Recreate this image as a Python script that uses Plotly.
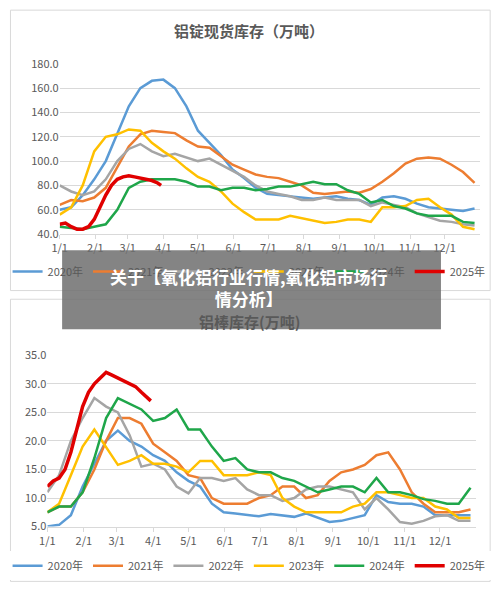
import plotly.graph_objects as go

days = list(range(0, 361, 10))
red_days = [0, 5, 10, 15, 20, 25, 30, 35, 40, 45, 50, 55, 60, 65, 70, 75, 80, 85, 88]
month_days = [0, 31, 59, 90, 120, 151, 181, 212, 243, 273, 304, 334]
month_labels = ['1/1', '2/1', '3/1', '4/1', '5/1', '6/1', '7/1', '8/1', '9/1', '10/1', '11/1', '12/1']
years = ['2020年', '2021年', '2022年', '2023年', '2024年', '2025年']

# 铝锭现货库存
ingot_2020 = [60, 62, 72, 85, 100, 122, 145, 160, 166, 167, 160, 145, 125, 115, 105, 93, 86, 78, 73,
              72, 71, 70, 69, 70, 71, 69, 68, 64, 70, 71, 69, 65, 62, 61, 60, 59, 61]
ingot_2021 = [64, 68, 67, 70, 78, 95, 112, 122, 125, 124, 123, 117, 112, 111, 104, 97, 93, 89, 87,
              86, 83, 80, 74, 73, 74, 75, 74, 77, 83, 90, 98, 102, 103, 102, 97, 91, 82]
ingot_2022 = [80, 75, 72, 75, 85, 100, 110, 114, 108, 104, 106, 103, 100, 102, 97, 92, 87, 80, 75,
              73, 71, 68, 68, 70, 68, 68, 68, 63, 66, 64, 62, 57, 54, 51, 50, 48, 47]
ingot_2023 = [56, 62, 80, 108, 120, 122, 126, 125, 115, 108, 102, 94, 87, 83, 75, 65, 58, 52, 52,
              52, 55, 53, 51, 49, 50, 52, 52, 50, 62, 62, 63, 68, 69, 62, 56, 46, 44]
ingot_2024 = [46, 45, 44, 46, 48, 60, 78, 83, 85, 85, 85, 83, 79, 79, 76, 78, 78, 76, 77,
              79, 79, 81, 83, 81, 81, 76, 73, 66, 68, 63, 61, 57, 55, 55, 55, 50, 49]
ingot_2025 = [48, 49, 46, 44, 44, 46, 52, 62, 72, 80, 85, 87, 88, 87, 86, 85, 84, 82, 80]

# 铝棒库存
bar_2020 = [5, 5.3, 7, 12, 16, 20, 21.8, 20, 19, 17.5, 16.5, 14.5, 13, 12, 9, 7.5, 7.3, 7, 6.8,
            7.2, 7, 6.7, 7.3, 6.5, 5.8, 6, 6.5, 7, 10.5, 9.3, 9, 9, 8.5, 7, 7, 7, 7]
bar_2021 = [7.5, 8.5, 8.5, 11, 15, 20, 24, 24, 23, 19.5, 18, 16.5, 14, 13.5, 10, 9, 9, 9, 10,
            10.5, 12, 12, 10, 10.5, 13, 14.5, 15, 15.8, 17.5, 18, 15, 11, 9, 7.5, 7.5, 7.5, 8]
bar_2022 = [11, 14, 20, 24, 27.5, 26, 25, 21, 15.5, 16, 15, 12, 10.8, 13.5, 13.5, 13, 13.5, 11.5, 10.5,
            10.5, 9.5, 10, 11.5, 12, 12, 11.5, 11, 8, 10, 8, 5.8, 5.5, 6, 6.8, 7, 6, 6]
bar_2023 = [7.5, 9, 14, 19, 22, 19, 15.8, 16.5, 17.5, 16, 16, 15.5, 14.5, 16.5, 16.5, 14, 14, 14, 14.5,
            14, 10, 8.5, 7.5, 7.5, 7.5, 7.5, 8.5, 9, 11, 11, 10.5, 10, 10, 8.5, 8, 6.5, 6.5]
bar_2024 = [7.5, 8.5, 8.5, 11, 17, 24, 27.5, 26.5, 25.5, 23.5, 24, 25.5, 22, 22, 19, 16.5, 17, 15, 14.5,
            14.5, 13.5, 13, 12, 11, 11.5, 12, 12, 11, 13.5, 11, 11, 10.5, 9.8, 9.5, 9, 9, 11.8]
bar_2025 = [12, 13, 13.5, 15, 18, 22, 26, 28.5, 30, 31, 32, 31.5, 31, 30.5, 30, 29.5, 28.5, 27.5, 27]

colors = ['#5B9BD5', '#ED7D31', '#A5A5A5', '#FFC000', '#1FA64A', '#E00000']
ingot = [ingot_2020, ingot_2021, ingot_2022, ingot_2023, ingot_2024, ingot_2025]
bars = [bar_2020, bar_2021, bar_2022, bar_2023, bar_2024, bar_2025]

fig = go.Figure()
for i, name in enumerate(years):
    xs = red_days if i == 5 else days
    w = 3.5 if i == 5 else 2.5
    fig.add_trace(go.Scatter(x=xs, y=ingot[i], name=name, mode='lines',
                             line=dict(color=colors[i], width=w),
                             xaxis='x', yaxis='y', legend='legend2'))
for i, name in enumerate(years):
    xs = red_days if i == 5 else days
    w = 3.5 if i == 5 else 2.5
    fig.add_trace(go.Scatter(x=xs, y=bars[i], name=name, mode='lines',
                             line=dict(color=colors[i], width=w),
                             xaxis='x2', yaxis='y2', legend='legend'))

tickfont = dict(family='Noto Sans CJK SC', size=11, color='#595959')
xcommon = dict(range=[0, 365], tickvals=month_days, ticktext=month_labels, showgrid=False,
               showline=True, linecolor='#D9D9D9', ticks='outside', ticklen=4,
               tickcolor='#D9D9D9', tickfont=tickfont, zeroline=False)
ycommon = dict(showgrid=True, gridcolor='#D9D9D9', tickfont=tickfont, zeroline=False,
               tickformat='.1f', showline=False)
legfont = dict(family='Noto Sans CJK SC', size=11, color='#595959')

fig.update_layout(
    width=500, height=593, margin=dict(l=0, r=0, t=0, b=0),
    paper_bgcolor='white', plot_bgcolor='white',
    font=dict(family='Noto Sans CJK SC'),
    xaxis=dict(domain=[0.105, 0.96], anchor='y', **xcommon),
    yaxis=dict(domain=[0.61, 0.905], anchor='x', range=[40, 180], dtick=20, **ycommon),
    xaxis2=dict(domain=[0.08, 0.952], anchor='y2', **xcommon),
    yaxis2=dict(domain=[0.103, 0.40], anchor='x2', range=[5, 35], dtick=5, **ycommon),
    legend=dict(orientation='h', x=0.49, xanchor='center', y=0.035, yanchor='middle',
                font=legfont, itemwidth=30, tracegroupgap=0),
    legend2=dict(orientation='h', x=0.49, xanchor='center', y=0.545, yanchor='middle',
                 font=legfont, itemwidth=30, bgcolor='rgba(0,0,0,0)'),
    shapes=[
        dict(type='rect', xref='paper', yref='paper', x0=0.005, x1=0.98, y0=0.512, y1=0.998,
             line=dict(color='#D9D9D9', width=1)),
        dict(type='rect', xref='paper', yref='paper', x0=0.005, x1=0.98, y0=0.008, y1=0.497,
             line=dict(color='#D9D9D9', width=1)),
        dict(type='rect', xref='paper', yref='paper', x0=0.11, x1=0.88, y0=0.445, y1=0.582,
             fillcolor='rgba(110,110,110,0.85)', line=dict(width=0), layer='above'),
    ],
    annotations=[
        dict(text='<b>铝锭现货库存（万吨）</b>', x=0.49, y=0.985, xref='paper', yref='paper',
             showarrow=False, font=dict(size=15, color='#595959')),
        dict(text='<b>铝棒库存(万吨)</b>', x=0.49, y=0.458, xref='paper', yref='paper',
             showarrow=False, font=dict(size=15, color='#595959')),
        dict(text='<b>关于【氧化铝行业行情,氧化铝市场行<br>情分析】</b>', x=0.49, y=0.517,
             xref='paper', yref='paper', showarrow=False,
             font=dict(size=17, color='white'), align='center'),
    ],
)

fig.write_html('out.html', config={'displayModeBar': False},
               post_script="document.body.style.margin='0';")
